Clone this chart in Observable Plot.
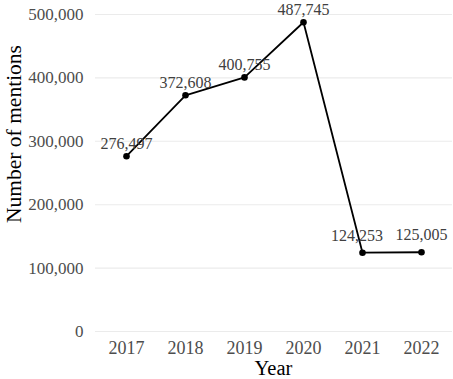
<!DOCTYPE html>
<html>
<head>
<meta charset="utf-8">
<script src="https://cdn.jsdelivr.net/npm/d3@7"></script>
<script src="https://cdn.jsdelivr.net/npm/@observablehq/plot@0.6"></script>
<style>
  html, body { margin: 0; padding: 0; background: #fff; }
  #chart svg { display: block; }
</style>
</head>
<body>
<div id="chart"></div>
<script>
const years = ["2017", "2018", "2019", "2020", "2021", "2022"];
const mentions = [276497, 372608, 400755, 487745, 124253, 125005];
const yTicks = [0, 100000, 200000, 300000, 400000, 500000];
const xTitle = "Year";
const yTitle = "Number of mentions";

const data = years.map((year, i) => ({year, value: mentions[i], label: d3.format(",")(mentions[i])}));
const fmt = d3.format(",");
const W = 453, H = 379;
const mL = 95, mR = 1, mT = 14, mB = 48;

const chart = Plot.plot({
  width: W,
  height: H,
  marginLeft: mL,
  marginRight: mR,
  marginTop: mT,
  marginBottom: mB,
  style: {fontFamily: "'Liberation Serif', serif", fontSize: "17px", background: "#fff", overflow: "visible"},
  x: {type: "point", domain: years, padding: 0.5},
  y: {domain: [0, 500000]},
  marks: [
    Plot.gridY(yTicks, {stroke: "#ebebeb", strokeOpacity: 1, strokeWidth: 1.1}),
    Plot.axisY(yTicks, {tickSize: 0, tickPadding: 12, tickFormat: fmt, label: null, fill: "#4d4d4d", fontSize: 17}),
    Plot.axisX(years, {tickSize: 0, tickPadding: 10, label: null, fill: "#4d4d4d", fontSize: 18}),
    Plot.line(data, {x: "year", y: "value", stroke: "#000", strokeWidth: 1.8}),
    Plot.dot(data, {x: "year", y: "value", r: 3.3, fill: "#000", stroke: "none"}),
    Plot.text(data.slice(0, 4), {x: "year", y: "value", text: "label", dy: -12.5, fill: "#404040", fontSize: 16}),
    Plot.text(data.slice(4, 5), {x: "year", y: "value", text: "label", dy: -17, dx: -5.5, fill: "#404040", fontSize: 16}),
    Plot.text(data.slice(5), {x: "year", y: "value", text: "label", dy: -17, fill: "#404040", fontSize: 16})
  ]
});

const svg = d3.select(chart);
svg.append("text")
  .attr("x", (mL + W - mR) / 2)
  .attr("y", 375)
  .attr("text-anchor", "middle")
  .attr("fill", "#000")
  .style("font-size", "20.5px")
  .text(xTitle);
svg.append("text")
  .attr("transform", "translate(20.5,134) rotate(-90)")
  .attr("text-anchor", "middle")
  .attr("fill", "#000")
  .style("font-size", "21.5px")
  .text(yTitle);

document.getElementById("chart").appendChild(chart);
</script>
</body>
</html>
